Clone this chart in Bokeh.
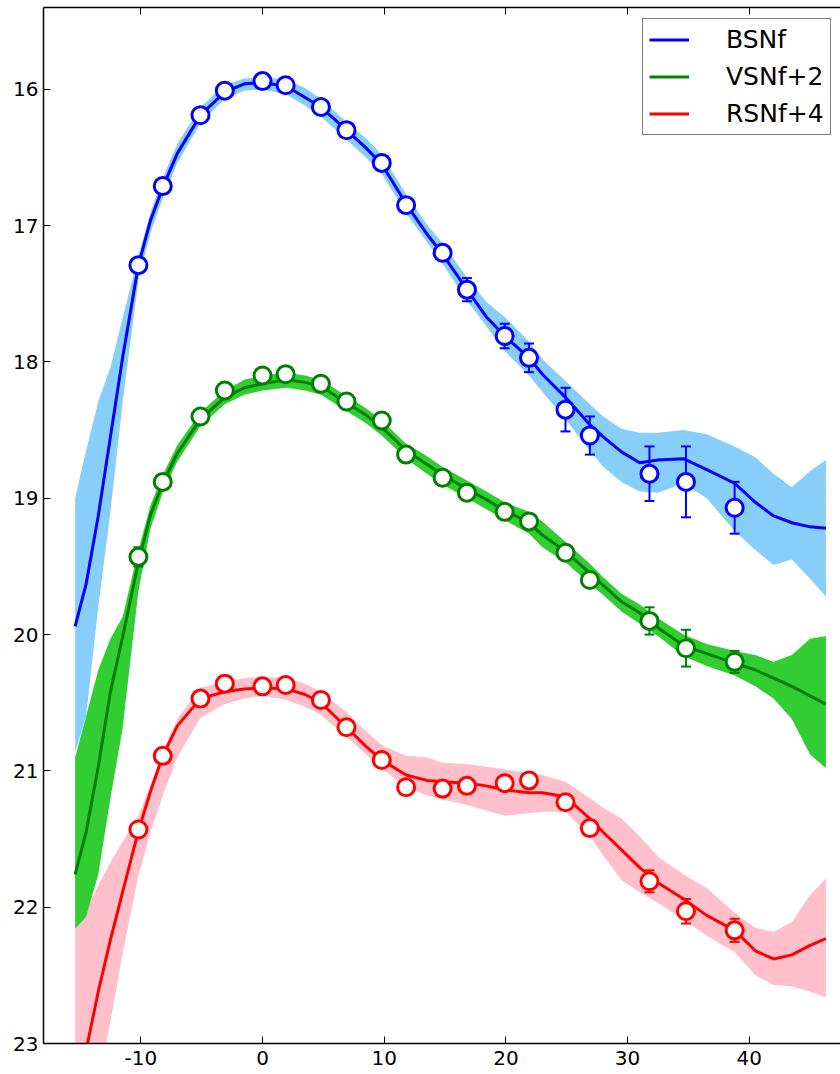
from bokeh.plotting import figure
from bokeh.models import Range1d, FixedTicker, LinearAxis, Legend, LegendItem
from bokeh.embed import file_html
from bokeh.resources import INLINE

# ---- observed photometry (days from max, magnitude, error) ----
days = [-10.2, -8.2, -5.1, -3.1, 0.0, 1.9, 4.8, 6.9, 9.8, 11.8, 14.8, 16.8,
        19.9, 21.9, 24.9, 26.9, 31.8, 34.8, 38.8]

b_mag = [17.29, 16.71, 16.19, 16.01, 15.94, 15.97, 16.13, 16.30, 16.54, 16.85,
         17.20, 17.47, 17.81, 17.97, 18.35, 18.54, 18.82, 18.88, 19.07]
b_err = [0.03, 0.03, 0.03, 0.03, 0.03, 0.03, 0.03, 0.03, 0.03, 0.03,
         0.05, 0.085, 0.09, 0.105, 0.16, 0.14, 0.20, 0.26, 0.19]

v_mag = [19.43, 18.88, 18.40, 18.21, 18.10, 18.09, 18.16, 18.29, 18.43, 18.68,
         18.85, 18.96, 19.10, 19.17, 19.40, 19.60, 19.90, 20.10, 20.20]
v_err = [0.07, 0.03, 0.03, 0.03, 0.03, 0.03, 0.03, 0.03, 0.03, 0.03,
         0.03, 0.03, 0.03, 0.04, 0.05, 0.05, 0.10, 0.135, 0.08]

r_mag = [21.43, 20.89, 20.47, 20.36, 20.38, 20.37, 20.48, 20.68, 20.92, 21.12,
         21.13, 21.11, 21.09, 21.07, 21.23, 21.42, 21.81, 22.03, 22.17]
r_err = [0.03, 0.03, 0.03, 0.03, 0.03, 0.03, 0.03, 0.03, 0.03, 0.03,
         0.03, 0.03, 0.03, 0.03, 0.04, 0.04, 0.08, 0.09, 0.085]

# ---- model curves (days, model, band bright edge, band faint edge) ----
model_days = [-15.4, -14.5, -13.5, -12.5, -11.5, -10.2, -9.2, -8.2, -7.0, -5.1,
              -3.1, -1.5, 0.0, 2.0, 3.5, 4.8, 6.9, 8.5, 9.8, 11.8,
              13.5, 14.8, 16.8, 18.4, 19.9, 21.9, 23.0, 24.9, 26.9, 28.0,
              29.5, 31.0, 32.5, 34.6, 36.5, 38.8, 40.5, 42.0, 43.5, 45.0, 46.3]

b_model = [19.94, 19.63, 19.13, 18.55, 17.97, 17.29, 16.96, 16.72, 16.47, 16.19,
           16.02, 15.96, 15.95, 15.98, 16.06, 16.13, 16.30, 16.43, 16.55, 16.84,
           17.06, 17.21, 17.47, 17.67, 17.81, 17.97, 18.09, 18.26, 18.46, 18.55,
           18.66, 18.74, 18.72, 18.71, 18.79, 18.89, 19.03, 19.13, 19.18, 19.21, 19.22]
b_hi = [19.00, 18.65, 18.29, 18.04, 17.68, 17.22, 16.90, 16.65, 16.40, 16.13,
        15.97, 15.92, 15.91, 15.93, 15.99, 16.07, 16.24, 16.36, 16.48, 16.77,
        16.99, 17.13, 17.38, 17.56, 17.67, 17.85, 17.98, 18.14, 18.31, 18.40,
        18.49, 18.52, 18.52, 18.50, 18.53, 18.62, 18.70, 18.82, 18.92, 18.80, 18.72]
b_lo = [20.86, 20.60, 19.80, 19.10, 18.30, 17.40, 17.05, 16.80, 16.54, 16.25,
        16.07, 16.01, 16.00, 16.04, 16.12, 16.20, 16.37, 16.50, 16.62, 16.91,
        17.12, 17.28, 17.55, 17.74, 17.92, 18.10, 18.22, 18.42, 18.65, 18.77,
        18.88, 18.95, 18.96, 18.89, 19.00, 19.24, 19.38, 19.49, 19.45, 19.59, 19.72]

v_model = [21.76, 21.45, 20.97, 20.42, 20.02, 19.47, 19.12, 18.89, 18.67, 18.42,
           18.26, 18.19, 18.16, 18.13, 18.15, 18.18, 18.30, 18.39, 18.48, 18.65,
           18.75, 18.83, 18.93, 19.01, 19.09, 19.18, 19.27, 19.39, 19.55, 19.64,
           19.76, 19.84, 19.95, 20.08, 20.14, 20.21, 20.26, 20.32, 20.38, 20.45, 20.51]
v_hi = [20.90, 20.60, 20.26, 20.03, 19.87, 19.38, 19.05, 18.83, 18.61, 18.37,
        18.21, 18.13, 18.10, 18.08, 18.10, 18.13, 18.25, 18.34, 18.43, 18.60,
        18.69, 18.77, 18.87, 18.95, 19.03, 19.10, 19.17, 19.32, 19.48, 19.58,
        19.70, 19.78, 19.88, 20.00, 20.07, 20.12, 20.15, 20.20, 20.15, 20.03, 20.01]
v_lo = [22.16, 22.07, 21.76, 21.20, 20.69, 19.68, 19.22, 18.96, 18.73, 18.47,
        18.31, 18.24, 18.21, 18.19, 18.21, 18.24, 18.36, 18.45, 18.54, 18.71,
        18.82, 18.90, 19.00, 19.08, 19.16, 19.26, 19.36, 19.47, 19.63, 19.71,
        19.83, 19.92, 20.01, 20.16, 20.23, 20.30, 20.38, 20.47, 20.62, 20.88, 20.98]

r_model = [23.42, 23.05, 22.62, 22.24, 21.89, 21.44, 21.15, 20.89, 20.67, 20.47,
           20.42, 20.40, 20.39, 20.40, 20.44, 20.50, 20.68, 20.82, 20.92, 21.03,
           21.07, 21.08, 21.09, 21.11, 21.14, 21.16, 21.16, 21.19, 21.35, 21.45,
           21.58, 21.71, 21.82, 21.94, 22.06, 22.17, 22.32, 22.38, 22.35, 22.28, 22.23]
r_hi = [22.17, 22.03, 21.84, 21.67, 21.52, 21.33, 21.10, 20.86, 20.62, 20.39,
        20.35, 20.32, 20.31, 20.32, 20.36, 20.42, 20.57, 20.71, 20.81, 20.89,
        20.90, 20.94, 20.95, 20.97, 20.99, 21.02, 21.03, 21.08, 21.20, 21.27,
        21.35, 21.48, 21.63, 21.76, 21.86, 22.04, 22.15, 22.18, 22.11, 21.91, 21.79]
r_lo = [24.00, 23.60, 23.30, 22.84, 22.34, 21.77, 21.45, 21.18, 20.90, 20.61,
        20.51, 20.47, 20.45, 20.48, 20.53, 20.59, 20.75, 20.88, 20.98, 21.12,
        21.18, 21.21, 21.25, 21.29, 21.33, 21.31, 21.30, 21.30, 21.48, 21.62,
        21.80, 21.89, 21.97, 22.09, 22.21, 22.33, 22.50, 22.57, 22.58, 22.62, 22.66]

labels = ["BSNf", "VSNf+2", "RSNf+4"]
x_ticks = [-10, 0, 10, 20, 30, 40]
x_tick_labels = {-10: "-10", 0: "0", 10: "10", 20: "20", 30: "30", 40: "40"}
y_ticks = [16, 17, 18, 19, 20, 21, 22, 23]

FONT = "DejaVu Sans"

p = figure(width=840, height=1074, output_backend="svg", toolbar_location=None,
           x_range=Range1d(-18.0, 47.5), y_range=Range1d(23.0, 15.4),
           min_border_left=43, min_border_right=0, min_border_top=7,
           min_border_bottom=31)
p.outline_line_color = None
p.grid.visible = False
p.background_fill_color = "white"

for ax in (p.xaxis[0], p.yaxis[0]):
    ax.axis_line_width = 1.5
    ax.axis_line_color = "black"
    ax.major_tick_in = 7
    ax.major_tick_out = 0
    ax.major_tick_line_color = "black"
    ax.minor_tick_line_color = None
    ax.major_label_text_font = FONT
    ax.major_label_text_font_size = "20px"
    ax.major_label_text_color = "black"
p.xaxis[0].ticker = FixedTicker(ticks=x_ticks)
p.xaxis[0].major_label_overrides = x_tick_labels
p.yaxis[0].ticker = FixedTicker(ticks=y_ticks)
p.xaxis[0].major_label_standoff = 7
p.yaxis[0].major_label_standoff = 5

top = LinearAxis(ticker=FixedTicker(ticks=x_ticks), axis_line_width=1.5,
                 major_tick_in=7, major_tick_out=0, minor_tick_line_color=None,
                 major_label_text_font_size="0px", major_label_standoff=0,
                 major_label_text_color=None)
p.add_layout(top, "above")

series = [
    (b_model, b_hi, b_lo, b_mag, b_err, "#0000ff", "#87cefa", "#0000ff"),
    (v_model, v_hi, v_lo, v_mag, v_err, "#008000", "#32cd32", "#008000"),
    (r_model, r_hi, r_lo, r_mag, r_err, "#ff0000", "#ffc0cb", "#ff0000"),
]

# bands (red first so green overlays it)
for mod, hi, lo, mag, err, lc, fc, pc in reversed(series):
    p.varea(x=model_days, y1=hi, y2=lo, fill_color=fc, fill_alpha=1.0)

line_renderers = []
for mod, hi, lo, mag, err, lc, fc, pc in series:
    r = p.line(model_days, mod, line_color=lc, line_width=3)
    line_renderers.append(r)

for mod, hi, lo, mag, err, lc, fc, pc in series:
    up = [m - e for m, e in zip(mag, err)]
    dn = [m + e for m, e in zip(mag, err)]
    p.segment(x0=days, y0=up, x1=days, y1=dn, line_color=pc, line_width=2)
    p.scatter(days, up, marker="dash", size=10, line_color=pc, line_width=2)
    p.scatter(days, dn, marker="dash", size=10, line_color=pc, line_width=2)
    p.scatter(days, mag, marker="circle", size=17, fill_color="white",
              line_color=pc, line_width=3)

legend = Legend(items=[LegendItem(label=l, renderers=[r]) for l, r in zip(labels, line_renderers)],
                location=(599, 908), padding=6, spacing=8,
                glyph_width=40, glyph_height=29, label_standoff=37,
                label_text_font=FONT, label_text_font_size="25px",
                label_text_color="black",
                border_line_color="black", border_line_width=1.5,
                background_fill_alpha=1.0)
p.add_layout(legend)

open("out.html", "w").write(file_html(p, INLINE))
